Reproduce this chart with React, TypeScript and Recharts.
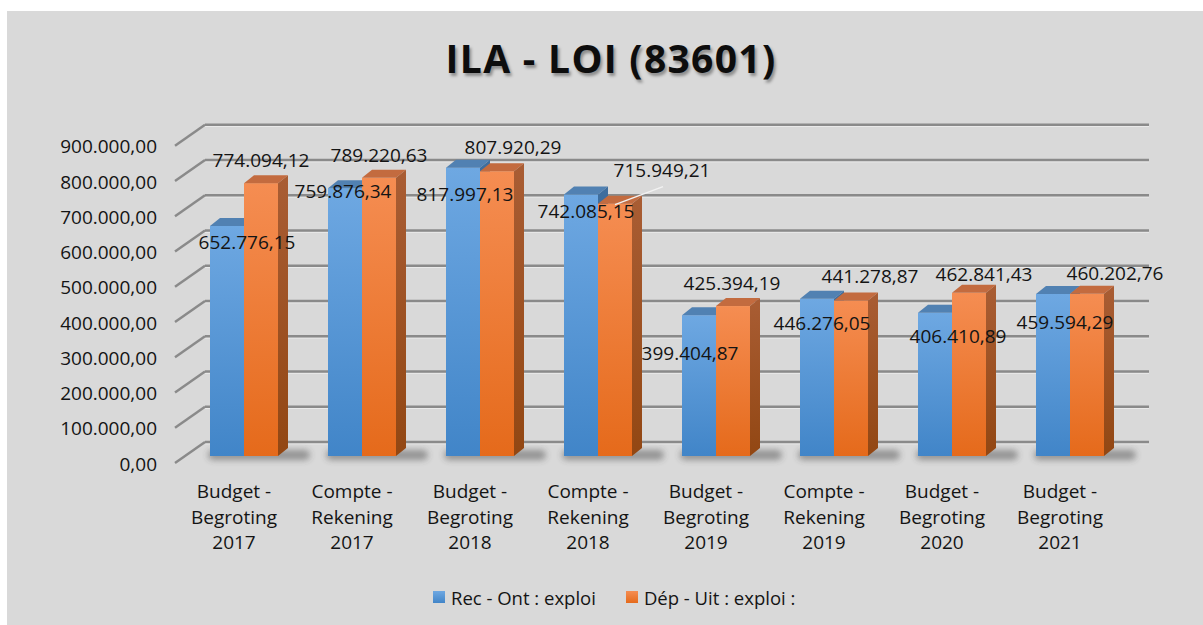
import React from "react";
import { BarChart, Bar, XAxis, YAxis, CartesianGrid } from "recharts";

const categories = [
  "Budget - Begroting 2017",
  "Compte - Rekening 2017",
  "Budget - Begroting 2018",
  "Compte - Rekening 2018",
  "Budget - Begroting 2019",
  "Compte - Rekening 2019",
  "Budget - Begroting 2020",
  "Budget - Begroting 2021",
];
const recValues = [652776.15, 759876.34, 817997.13, 742085.15, 399404.87, 446276.05, 406410.89, 459594.29];
const depValues = [774094.12, 789220.63, 807920.29, 715949.21, 425394.19, 441278.87, 462841.43, 460202.76];
const seriesNames = ["Rec - Ont : exploi", "Dép - Uit : exploi :"];
const yTicks = [0, 100000, 200000, 300000, 400000, 500000, 600000, 700000, 800000, 900000];
const chartTitle = "ILA - LOI (83601)";

// label nudges (relative to each bar's front-top centre), as placed in the original
const recLabelNudge = [[20, 16], [-2, 3], [2, 26], [5, 17], [-9, 38], [5, 24], [23, 23], [12, 28]];
const depLabelNudge = [[0, -23], [0, -23], [16, -24], [47, -34], [-1, -23], [19, -24], [15, -19], [28, -21]];

const data = categories.map((c, i) => ({ name: c, rec: recValues[i], dep: depValues[i] }));

const FONT = "'Open Sans', 'Noto Sans', sans-serif";
const TXT = "#141414";
const DX = 10;
const DY = -8;
const BACK_X = 20;
const BACK_Y = -14;
const FRONT_X = -10;
const FRONT_Y = 7;

const fmt = (v: number) => {
  const [int, dec] = v.toFixed(2).split(".");
  return int.replace(/\B(?=(\d{3})+(?!\d))/g, ".") + "," + dec;
};

const GridLine = (p: any) => {
  const { x1, y1, x2, y2 } = p;
  return (
    <g key={p.key ?? `g-${y1}`}>
      <line x1={x1 + BACK_X} y1={y1 + BACK_Y + 1.8} x2={x2 + BACK_X} y2={y2 + BACK_Y + 1.8} stroke="#f4f4f4" strokeOpacity={0.7} strokeWidth={1} />
      <line x1={x1 + BACK_X} y1={y1 + BACK_Y} x2={x2 + BACK_X} y2={y2 + BACK_Y} stroke="#8a8a8a" strokeWidth={2.5} />
      <line x1={x1 + FRONT_X} y1={y1 + FRONT_Y} x2={x1 + BACK_X} y2={y1 + BACK_Y} stroke="#8a8a8a" strokeWidth={2.5} />
    </g>
  );
};

const YTick = (p: any) => {
  const { x, y, payload } = p;
  return (
    <text x={x - 28} y={y + FRONT_Y + 7.5} textAnchor="end" fontFamily={FONT} fontSize={19} fill={TXT}>
      {fmt(payload.value)}
    </text>
  );
};

const XTick = (p: any) => {
  const { x, y, payload } = p;
  const t = String(payload.value).split(" ");
  const lines = [t[0] + " " + t[1], t[2], t[3]];
  return (
    <g>
      {lines.map((l, i) => (
        <text key={i} x={x + FRONT_X} y={y + 42 + i * 25.5} textAnchor="middle" fontFamily={FONT} fontSize={19} fill={TXT}>
          {l}
        </text>
      ))}
    </g>
  );
};

const Box3D = ({ x, y, width, height, front, top, side }: any) => (
  <g>
    <rect x={x} y={y} width={width} height={height} fill={`url(#${front})`} />
    <polygon points={`${x},${y} ${x + width},${y} ${x + width + DX},${y + DY} ${x + DX},${y + DY}`} fill={top} />
    <polygon
      points={`${x + width},${y} ${x + width + DX},${y + DY} ${x + width + DX},${y + height + DY} ${x + width},${y + height}`}
      fill={`url(#${side})`}
    />
  </g>
);

const RecShape = (p: any) => {
  const { x, y, width, height } = p;
  return (
    <g>
      <rect x={x - 2} y={y + height - 6} width={width * 2 + DX + 24} height={10} rx={5} fill="#333333" opacity={0.42} filter="url(#blurShadow)" />
      <Box3D x={x} y={y} width={width} height={height} front="recFront" top="#5181b2" side="recSide" />
    </g>
  );
};

const DepShape = (p: any) => {
  const { x, y, width, height, index } = p;
  const base = y + height;
  const recH = (height * recValues[index]) / depValues[index];
  const recTop = base - recH;
  const recCx = x - width / 2;
  const depCx = x + width / 2;
  const [rdx, rdy] = recLabelNudge[index];
  const [ddx, ddy] = depLabelNudge[index];
  const lx = depCx + ddx;
  const ly = y + ddy;
  const leader = Math.abs(ddx) > 30;
  return (
    <g>
      <Box3D x={x} y={y} width={width} height={height} front="depFront" top="#c36b3f" side="depSide" />
      {leader && <line x1={depCx} y1={y + 1} x2={lx + 1} y2={ly + 17} stroke="#f2f2f2" strokeWidth={1.5} />}
      <text x={recCx + rdx} y={recTop + rdy + 7} textAnchor="middle" fontFamily={FONT} fontSize={19} fill={TXT}>
        {fmt(recValues[index])}
      </text>
      <text x={lx} y={ly + 7} textAnchor="middle" fontFamily={FONT} fontSize={19} fill={TXT}>
        {fmt(depValues[index])}
      </text>
    </g>
  );
};

const Swatch = ({ id }: { id: string }) => (
  <svg width={12} height={12} style={{ display: "block" }}>
    <defs>
      <linearGradient id={id + "L"} x1="0" y1="0" x2="0" y2="1">
        <stop offset="0" stopColor={id === "r" ? "#6ea8e2" : "#f58d52"} />
        <stop offset="1" stopColor={id === "r" ? "#4285c8" : "#e56a1b"} />
      </linearGradient>
    </defs>
    <rect width={12} height={12} fill={`url(#${id}L)`} />
  </svg>
);

export default function App() {
  return (
    <div style={{ position: "absolute", left: 7, top: 11, width: 1196, height: 614, background: "#d9d9d9", overflow: "hidden" }}>
      <div
        style={{
          position: "absolute",
          left: 6,
          top: 27,
          width: 1196,
          textAlign: "center",
          fontFamily: FONT,
          fontWeight: 700,
          fontSize: 39,
          lineHeight: "39px",
          letterSpacing: 1.3,
          color: "#0d0d0d",
          textShadow: "2px 3px 3px rgba(0,0,0,0.35)",
        }}
      >
        {chartTitle}
      </div>
      <BarChart
        width={1196}
        height={614}
        data={data}
        barGap={0}
        margin={{ top: 127.75, right: 74, bottom: 109, left: 118 }}
      >
        <defs>
          <linearGradient id="recFront" x1="0" y1="0" x2="0" y2="1">
            <stop offset="0" stopColor="#6ea8e2" />
            <stop offset="1" stopColor="#4185c8" />
          </linearGradient>
          <linearGradient id="recSide" x1="0" y1="0" x2="0" y2="1">
            <stop offset="0" stopColor="#3f6e9e" />
            <stop offset="1" stopColor="#2f5d8a" />
          </linearGradient>
          <linearGradient id="depFront" x1="0" y1="0" x2="0" y2="1">
            <stop offset="0" stopColor="#f58d52" />
            <stop offset="1" stopColor="#e56a1b" />
          </linearGradient>
          <linearGradient id="depSide" x1="0" y1="0" x2="0" y2="1">
            <stop offset="0" stopColor="#a95d34" />
            <stop offset="1" stopColor="#924713" />
          </linearGradient>
          <filter id="blurShadow" x="-20%" y="-100%" width="140%" height="300%">
            <feGaussianBlur stdDeviation="3" />
          </filter>
        </defs>
        <CartesianGrid vertical={false} horizontal={GridLine as any} />
        <XAxis dataKey="name" axisLine={false} tickLine={false} tickSize={0} tickMargin={0} height={60} interval={0} tick={<XTick />} />
        <YAxis
          domain={[0, 900000]}
          ticks={yTicks}
          interval={0}
          axisLine={false}
          tickLine={false}
          tickSize={0}
          tickMargin={0}
          width={60}
          tick={<YTick />}
        />
        <Bar dataKey="rec" name={seriesNames[0]} barSize={34} fill="#5b9bd5" shape={<RecShape />} isAnimationActive={false} />
        <Bar dataKey="dep" name={seriesNames[1]} barSize={34} fill="#ed7d31" shape={<DepShape />} isAnimationActive={false} />
      </BarChart>
      <div
        style={{
          position: "absolute",
          left: 426,
          top: 574,
          height: 24,
          display: "flex",
          alignItems: "center",
          fontFamily: FONT,
          fontSize: 18.5,
          color: TXT,
          whiteSpace: "nowrap",
        }}
      >
        <Swatch id="r" />
        <span style={{ marginLeft: 6 }}>{seriesNames[0]}</span>
        <span style={{ marginLeft: 30 }}>
          <Swatch id="d" />
        </span>
        <span style={{ marginLeft: 6 }}>{seriesNames[1]}</span>
      </div>
    </div>
  );
}
